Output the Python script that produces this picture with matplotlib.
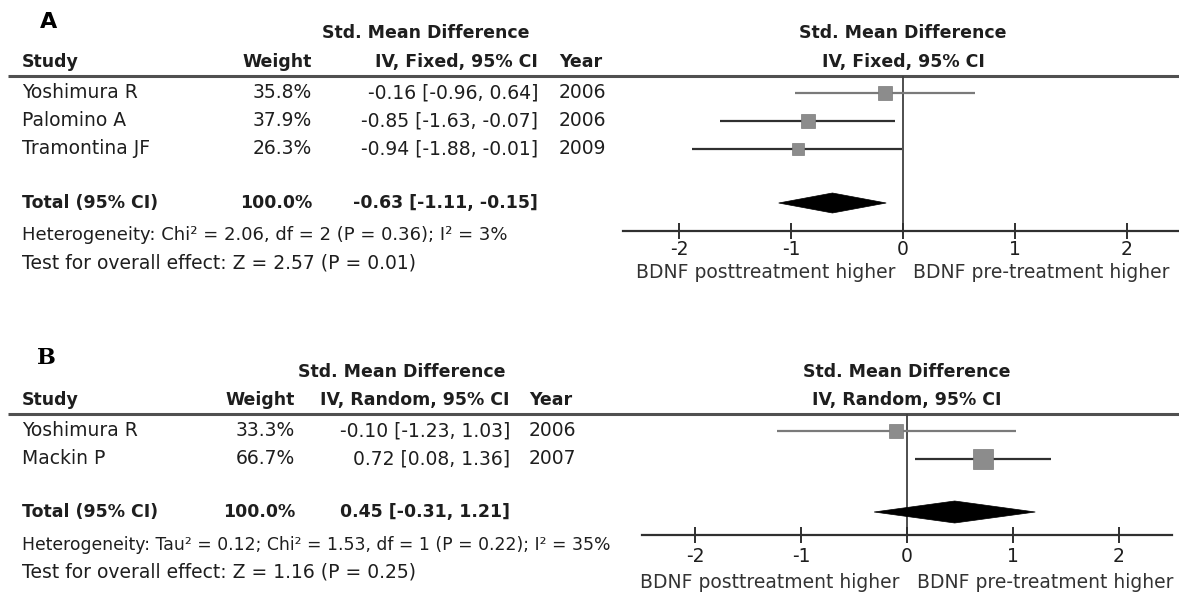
import matplotlib
matplotlib.use('Agg')
import numpy as np
import matplotlib.pyplot as plt
from matplotlib.patches import Polygon
from matplotlib.transforms import blended_transform_factory

W, H = 1179, 595
DPI = 100

# ---- panel A data (fixed effect) ----
a_studies = ['Yoshimura R', 'Palomino A', 'Tramontina JF']
a_weights = [35.8, 37.9, 26.3]
a_smd = [-0.16, -0.85, -0.94]
a_lo = [-0.96, -1.63, -1.88]
a_hi = [0.64, -0.07, -0.01]
a_years = [2006, 2006, 2009]
a_total = [-0.63, -1.11, -0.15]
a_het = 'Heterogeneity: Chi² = 2.06, df = 2 (P = 0.36); I² = 3%'
a_test = 'Test for overall effect: Z = 2.57 (P = 0.01)'

# ---- panel B data (random effects) ----
b_studies = ['Yoshimura R', 'Mackin P']
b_weights = [33.3, 66.7]
b_smd = [-0.10, 0.72]
b_lo = [-1.23, 0.08]
b_hi = [1.03, 1.36]
b_years = [2006, 2007]
b_total = [0.45, -0.31, 1.21]
b_het = 'Heterogeneity: Tau² = 0.12; Chi² = 1.53, df = 1 (P = 0.22); I² = 35%'
b_test = 'Test for overall effect: Z = 1.16 (P = 0.25)'

tick_vals = [-2, -1, 0, 1, 2]
tick_labels = ['-2', '-1', '0', '1', '2']
left_label = 'BDNF posttreatment higher'
right_label = 'BDNF pre-treatment higher'

FS = 13.5      # regular text
FSB = 12.5     # bold header text
TXT = '#1e1e1e'
plt.rcParams['font.family'] = ['DejaVu Sans']

fig = plt.figure(figsize=(W / DPI, H / DPI), dpi=DPI)
lay = fig.add_axes([0, 0, 1, 1])
lay.set_xlim(0, W)
lay.set_ylim(H, 0)
lay.axis('off')


def draw_panel(letter, letter_font, method, studies, weights, smd, lo, hi, years,
               total, het, test, L):
    # panel letter
    lay.text(L['letter_x'], L['letter_y'], letter, fontsize=16, fontweight='bold',
             family=letter_font, va='center', ha='left', color='black')

    # left table headers
    lay.text(L['smd_c'], L['h1'], 'Std. Mean Difference', fontsize=FSB,
             fontweight='bold', ha='center', va='center', color=TXT)
    lay.text(L['study_x'], L['h2'], 'Study', fontsize=FSB, fontweight='bold',
             ha='left', va='center', color=TXT)
    lay.text(L['weight_r'], L['h2'], 'Weight', fontsize=FSB, fontweight='bold',
             ha='right', va='center', color=TXT)
    lay.text(L['ci_r'], L['h2'], 'IV, %s, 95%% CI' % method, fontsize=FSB,
             fontweight='bold', ha='right', va='center', color=TXT)
    lay.text(L['year_x'], L['h2'], 'Year', fontsize=FSB, fontweight='bold',
             ha='left', va='center', color=TXT)
    lay.plot([8, W], [L['line'], L['line']], color='#505050', lw=2.2,
             solid_capstyle='butt')

    # study rows
    for i, name in enumerate(studies):
        y = L['rows'][i]
        lay.text(L['study_x'], y, name, fontsize=FS, ha='left', va='center', color=TXT)
        lay.text(L['weight_r'], y, '%.1f%%' % weights[i], fontsize=FS,
                 ha='right', va='center', color=TXT)
        lay.text(L['ci_r'], y, '%.2f [%.2f, %.2f]' % (smd[i], lo[i], hi[i]),
                 fontsize=FS, ha='right', va='center', color=TXT)
        lay.text(L['year_x'], y, str(years[i]), fontsize=FS, ha='left',
                 va='center', color=TXT)

    # total row
    yt = L['total']
    lay.text(L['study_x'], yt, 'Total (95% CI)', fontsize=FSB, fontweight='bold',
             ha='left', va='center', color=TXT)
    lay.text(L['weight_r'], yt, '%.1f%%' % sum(weights), fontsize=FSB,
             fontweight='bold', ha='right', va='center', color=TXT)
    lay.text(L['ci_r'], yt, '%.2f [%.2f, %.2f]' % tuple(total), fontsize=FSB,
             fontweight='bold', ha='right', va='center', color=TXT)
    lay.text(L['study_x'], L['het'], het, fontsize=L['het_fs'], ha='left',
             va='center', color=TXT)
    lay.text(L['study_x'], L['test'], test, fontsize=FS, ha='left', va='center', color=TXT)

    # forest plot axes: x in SMD units, y in layout pixels
    x0, x1 = L['fx']
    top, bot = L['line'], L['axis']
    ax = fig.add_axes([x0 / W, 1 - bot / H, (x1 - x0) / W, (bot - top) / H])
    ax.set_facecolor('none')
    ax.set_xlim(-2.5, 2.5)
    ax.set_ylim(bot, top)
    for s in ['left', 'right', 'top']:
        ax.spines[s].set_visible(False)
    ax.spines['bottom'].set_color('#303030')
    ax.spines['bottom'].set_linewidth(1.6)
    ax.set_yticks([])
    ax.set_xticks(tick_vals)
    ax.set_xticklabels(tick_labels, fontsize=FS, color=TXT)
    ax.tick_params(axis='x', direction='inout', length=12, width=1.4,
                   color='#303030', pad=L['tick_pad'])

    ax.axvline(0, color='#404040', lw=1.3, zorder=1)
    for i in range(len(studies)):
        y = L['rows'][i]
        ax.hlines(y, lo[i], hi[i], color=L['ci_colors'][i], lw=1.6, zorder=2)
        ax.plot(smd[i], y, marker='s', linestyle='none',
                ms=L['sq_k'] * np.sqrt(weights[i]) * 0.72,
                color='#8c8c8c', mec='#7a7a7a', mew=0.5, zorder=3)

    est, tlo, thi = total
    hh = L['diamond_h'] / 2
    ax.add_patch(Polygon([(tlo, yt), (est, yt - hh), (thi, yt), (est, yt + hh)],
                         closed=True, facecolor='black', edgecolor='black', lw=0.5,
                         zorder=3))

    # right headers and direction labels centred on zero
    tr = blended_transform_factory(ax.transData, lay.transData)
    lay.text(0, L['h1'], 'Std. Mean Difference', transform=tr, fontsize=FSB,
             fontweight='bold', ha='center', va='center', color=TXT)
    lay.text(0, L['h2'], 'IV, %s, 95%% CI' % method, transform=tr, fontsize=FSB,
             fontweight='bold', ha='center', va='center', color=TXT)
    ax.annotate(left_label, xy=(0, L['dir']), xycoords=tr, xytext=(-8, 0),
                textcoords='offset pixels', fontsize=FS, ha='right', va='center',
                color='#333333')
    ax.annotate(right_label, xy=(0, L['dir']), xycoords=tr, xytext=(10, 0),
                textcoords='offset pixels', fontsize=FS, ha='left', va='center',
                color='#333333')
    return ax


layout_a = dict(letter_x=40, letter_y=22, smd_c=426, h1=33, h2=62, line=76,
                rows=[93, 121, 149], total=203, het=235, test=263, axis=231,
                dir=273, study_x=22, weight_r=312, ci_r=538, year_x=559,
                fx=(623, 1183), sq_k=2.2, diamond_h=20, het_fs=13.0, tick_pad=0.5,
                ci_colors=['#7a7a7a', '#303030', '#303030'])
layout_b = dict(letter_x=37, letter_y=358, smd_c=402, h1=372, h2=400, line=414,
                rows=[431, 459], total=512, het=545, test=572, axis=535,
                dir=583, study_x=22, weight_r=295, ci_r=510, year_x=529,
                fx=(642, 1172), sq_k=2.35, diamond_h=22, het_fs=12.45, tick_pad=2.5,
                ci_colors=['#7a7a7a', '#303030'])

draw_panel('A', 'DejaVu Sans', 'Fixed', a_studies, a_weights, a_smd, a_lo, a_hi,
           a_years, a_total, a_het, a_test, layout_a)
draw_panel('B', 'DejaVu Serif', 'Random', b_studies, b_weights, b_smd, b_lo, b_hi,
           b_years, b_total, b_het, b_test, layout_b)

fig.savefig('out.png', dpi=DPI, facecolor='white')
